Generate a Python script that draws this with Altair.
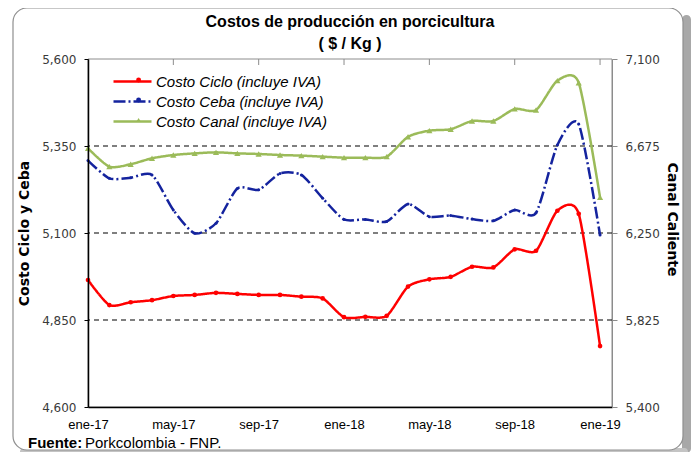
import json
import altair as alt
import pandas as pd

# ---------------- data ----------------
months = ["ene-17", "feb-17", "mar-17", "abr-17", "may-17", "jun-17", "jul-17",
          "ago-17", "sep-17", "oct-17", "nov-17", "dic-17", "ene-18", "feb-18",
          "mar-18", "abr-18", "may-18", "jun-18", "jul-18", "ago-18", "sep-18",
          "oct-18", "nov-18", "dic-18", "ene-19"]
tick_idx = [0, 4, 8, 12, 16, 20, 24]

ciclo = [4965, 4893, 4901, 4907, 4919, 4922, 4928, 4925, 4922, 4922, 4917, 4912,
         4858, 4859, 4862, 4946, 4967, 4974, 5003, 5001, 5053, 5049, 5164, 5155, 4775]
ceba = [5308, 5257, 5259, 5267, 5166, 5099, 5128, 5228, 5224, 5271, 5267, 5200,
        5139, 5139, 5133, 5183, 5147, 5150, 5140, 5135, 5166, 5158, 5353, 5413, 5094]
canal = [6664, 6574, 6586, 6615, 6631, 6639, 6644, 6639, 6636, 6631, 6628, 6623,
         6618, 6618, 6623, 6720, 6750, 6757, 6797, 6797, 6856, 6851, 6994, 6984, 6424]

S_CICLO = "Costo Ciclo (incluye IVA)"
S_CEBA = "Costo Ceba (incluye IVA)"
S_CANAL = "Costo Canal (incluye IVA)"
series = [S_CICLO, S_CEBA, S_CANAL]
markers = ["m_ciclo", "m_ceba", "m_canal"]
colors = ["#FF0000", "#14239E", "#9BBB59"]

title_lines = ["Costos de producción  en porcicultura", "( $ / Kg )"]
footer_bold = "Fuente:"
footer_text = "Porkcolombia - FNP."

left_ticks = [4600, 4850, 5100, 5350, 5600]
right_ticks = [5400, 5825, 6250, 6675, 7100]
grid_vals = [4850, 5100, 5350]

n = len(months)
left_df = pd.DataFrame({
    "idx": list(range(n)) * 2,
    "serie": [S_CICLO] * n + [S_CEBA] * n,
    "marca": [markers[0]] * n + [markers[1]] * n,
    "valor": ciclo + ceba,
})
right_df = pd.DataFrame({"idx": list(range(n)), "serie": [S_CANAL] * n,
                         "marca": [markers[2]] * n, "valor": canal})
grid_df = pd.DataFrame({"valor": grid_vals})
top_tick_df = pd.DataFrame({"idx": tick_idx[1:]})
one = pd.DataFrame({"a": [0]})

SANS = "Liberation Sans, Arial, sans-serif"
W, H = 524, 348

# ---------------- scales / encodings ----------------
x_scale = alt.Scale(domain=[0, 24.56], nice=False, zero=False)
yl_scale = alt.Scale(domain=[4600, 5600], nice=False, zero=False)
yr_scale = alt.Scale(domain=[5400, 7100], nice=False, zero=False)

x_bottom = alt.X(
    "idx:Q", scale=x_scale,
    axis=alt.Axis(values=tick_idx, labelExpr=f"{json.dumps(months)}[datum.value]",
                  ticks=False, grid=False, title=None, domainColor="black",
                  domainWidth=1.5, labelPadding=11, labelFont=SANS, labelFontSize=13,
                  labelColor="black", labelFlush=False, zindex=1),
)

y_left = alt.Y(
    "valor:Q", scale=yl_scale,
    axis=alt.Axis(values=left_ticks, format=",.0f", grid=False, tickSize=4,
                  tickColor="black", domainColor="black", domainWidth=1.5,
                  labelPadding=8, labelFont="DejaVu Sans", labelFontSize=12,
                  labelColor="#3a3a3a", title="Costo Ciclo  y Ceba",
                  titleFont="DejaVu Sans", titleFontSize=14, titleFontWeight="bold",
                  titleColor="black", titlePadding=10, zindex=1),
)
y_right = alt.Y(
    "valor:Q", scale=yr_scale,
    axis=alt.Axis(orient="right", values=right_ticks, format=",.0f", grid=False,
                  tickSize=5, tickColor="#8c8c8c", domainColor="#8c8c8c",
                  labelPadding=8, labelFont="DejaVu Sans", labelFontSize=12,
                  labelColor="#3a3a3a", title="Canal Caliente",
                  titleFont="DejaVu Sans", titleFontSize=14, titleFontWeight="bold",
                  titleColor="black", titlePadding=5, titleY=160, zindex=1),
)

line_legend = alt.Legend(orient="none", legendX=33, legendY=11, title=None,
                         symbolType="M-1.9,0H1.9", symbolSize=400,
                         symbolStrokeWidth=2.5, labelFont=SANS,
                         labelFontStyle="italic", labelFontSize=15,
                         labelColor="black", labelOffset=12, rowPadding=0,
                         padding=0, labelLimit=0)
marker_legend = alt.Legend(orient="none", legendX=33, legendY=11, title=None,
                           symbolSize=24, symbolOffset=7.6, symbolStrokeWidth=0,
                           labelExpr="''", labelFontSize=20, rowPadding=0,
                           padding=0, labelLimit=0)

color_enc = alt.Color("serie:N", scale=alt.Scale(domain=series, range=colors),
                      legend=line_legend)
dash_enc = alt.StrokeDash("serie:N",
                          scale=alt.Scale(domain=series,
                                          range=[[1, 0], [12, 3, 2, 3], [1, 0]]),
                          legend=line_legend)
fill_enc = alt.Fill("marca:N", scale=alt.Scale(domain=markers, range=colors),
                    legend=marker_legend)
shape_enc = alt.Shape("marca:N",
                      scale=alt.Scale(domain=markers,
                                      range=["circle", "circle", "triangle-up"]),
                      legend=marker_legend)

# ---------------- decorative frame and texts ----------------
shadow_r = alt.Chart(one).mark_rect(cornerRadius=5, fill="#a8a8a8").encode(
    x=alt.value(594), x2=alt.value(603), y=alt.value(-44), y2=alt.value(394))
shadow_b = alt.Chart(one).mark_rect(cornerRadius=5, fill="#c4c4c4").encode(
    x=alt.value(-68), x2=alt.value(600), y=alt.value(389), y2=alt.value(396))
frame = alt.Chart(one).mark_rect(cornerRadius=14, fill="white", stroke="#8f8f8f",
                                 strokeWidth=1.2).encode(
    x=alt.value(-75), x2=alt.value(595), y=alt.value(-51), y2=alt.value(391))
plot_border = alt.Chart(one).mark_rect(fillOpacity=0, stroke="#8c8c8c",
                                       strokeWidth=1).encode(
    x=alt.value(0), x2=alt.value(W), y=alt.value(0), y2=alt.value(H))

title1 = alt.Chart(one).mark_text(align="center", baseline="middle", font=SANS,
                                  fontSize=16, fontWeight="bold",
                                  color="black").encode(
    x=alt.value(W / 2), y=alt.value(-37), text=alt.value(title_lines[0]))
title2 = alt.Chart(one).mark_text(align="center", baseline="middle", font=SANS,
                                  fontSize=16, fontWeight="bold",
                                  color="black").encode(
    x=alt.value(W / 2), y=alt.value(-15), text=alt.value(title_lines[1]))

fuente = alt.Chart(one).mark_text(align="left", baseline="middle", font=SANS,
                                  fontSize=15, fontWeight="bold",
                                  color="black").encode(
    x=alt.value(-60), y=alt.value(384), text=alt.value(footer_bold))
fuente2 = alt.Chart(one).mark_text(align="left", baseline="middle", font=SANS,
                                   fontSize=15, color="black").encode(
    x=alt.value(-3), y=alt.value(384), text=alt.value(footer_text))

grid = alt.Chart(grid_df).mark_rule(color="black", strokeDash=[5, 4],
                                    strokeWidth=1.1).encode(y=y_left)
top_ticks = alt.Chart(top_tick_df).mark_rule(color="#8c8c8c", strokeWidth=1).encode(
    x=x_bottom, y=alt.value(0), y2=alt.value(6))

left_lines = alt.Chart(left_df).mark_line(interpolate="cardinal", tension=0.3,
                                          strokeWidth=2.5).encode(
    x=x_bottom, y=y_left, color=color_enc, strokeDash=dash_enc)
pts_ciclo = alt.Chart(left_df).transform_filter(
    alt.datum.serie == S_CICLO).mark_point(filled=True, size=22, opacity=1).encode(
    x=x_bottom, y=y_left, fill=fill_enc, shape=shape_enc)
pts_ceba = alt.Chart(left_df).transform_filter(
    alt.datum.serie == S_CEBA).mark_point(filled=True, size=9, opacity=1).encode(
    x=x_bottom, y=y_left, fill=fill_enc, shape=shape_enc)

right_line = alt.Chart(right_df).mark_line(interpolate="cardinal", tension=0.3,
                                           strokeWidth=2.5).encode(
    x=x_bottom, y=y_right, color=color_enc, strokeDash=dash_enc)
pts_canal = alt.Chart(right_df).mark_point(filled=True, size=38, opacity=1).encode(
    x=x_bottom, y=y_right, fill=fill_enc, shape=shape_enc)

left = alt.layer(shadow_r, shadow_b, frame, plot_border, title1, title2, fuente,
                 fuente2, grid, top_ticks, left_lines, pts_ciclo, pts_ceba)
right = alt.layer(right_line, pts_canal)

chart = alt.layer(left, right).resolve_scale(y="independent").properties(
    width=W, height=H,
    autosize=alt.AutoSizeParams(type="none"),
    padding={"left": 80, "top": 51, "right": 80, "bottom": 45},
    background="white",
).configure_view(stroke=None)

chart.save("out.html", embed_options={"renderer": "svg", "actions": False})
